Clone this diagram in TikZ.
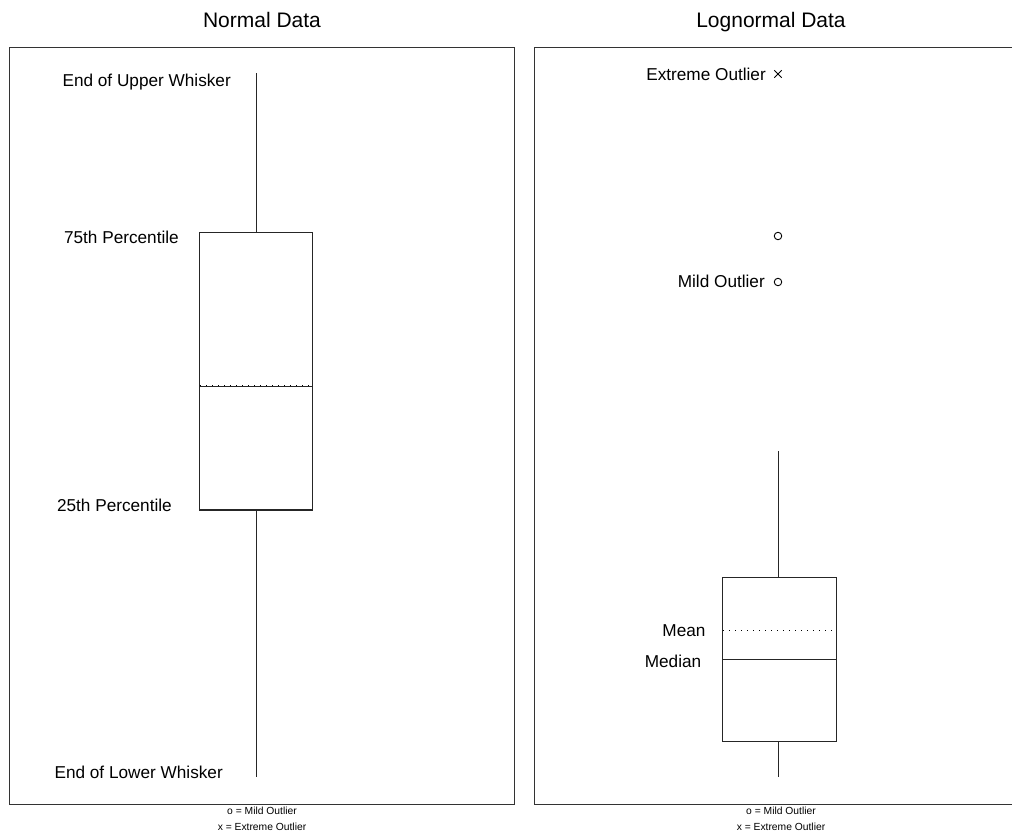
\documentclass[tikz,border=0pt]{standalone}
\usepackage{fontspec}
\setmainfont{Liberation Sans}
\begin{document}
\begin{tikzpicture}[x=1pt,y=-1pt,
  frame/.style={draw=black!80,line width=1pt},
  ln/.style={draw=black!85,line width=1pt},
  lbl/.style={font=\fontsize{17.2}{18}\selectfont,inner sep=0pt},
  ttl/.style={font=\fontsize{21}{22}\selectfont,inner sep=0pt,anchor=base},
  leg/.style={font=\fontsize{10.3}{11}\selectfont,inner sep=0pt},
  meanline/.style={draw=black,line width=1pt,dash pattern=on 1.2pt off 4.8pt},
  outc/.style={circle,draw=black,line width=0.9pt,minimum size=7.5pt,inner sep=0pt}]
\useasboundingbox (0,0) rectangle (1012,833);
% titles
\node[ttl] (t1) at (262,27.5) {Normal Data};
\node[ttl] (t2) at (771,27.5) {Lognormal Data};
% frames
\draw[frame] (9,47) rectangle (514,804);
\draw[frame] (1013,47) -- (534,47) -- (534,804) -- (1013,804);
% ---------- left plot
\coordinate (lwt) at (256,73);
\coordinate (lwb) at (256,777);
\draw[ln] (lwt) -- (256,232);
\draw[ln] (256,510) -- (lwb);
\draw[ln] (199,232) rectangle (312,510);
\draw[ln,line width=1.6pt] (199,510) -- (312,510);
\draw[ln] (199,386.5) -- (312,386.5);
\draw[meanline] (200,385.5) -- (312,385.5);
\node[lbl,anchor=east] (l1) at (231,82) {End of Upper Whisker};
\node[lbl,anchor=east] (l2) at (179,237) {75th Percentile};
\node[lbl,anchor=east] (l3) at (172,505) {25th Percentile};
\node[lbl,anchor=east] (l4) at (223,772) {End of Lower Whisker};
% ---------- right plot
\draw[ln] (778,451) -- (778,577);
\draw[ln] (778,741) -- (778,777);
\draw[ln] (722,577) rectangle (836,741);
\draw[ln] (722,659) -- (836,659);
\draw[meanline] (723,630) -- (836,630);
\node[lbl,anchor=center] (mean) at (684,631) {Mean};
\node[lbl,anchor=center] (med) at (673,661) {Median};
% outliers
\node[outc] (o1) at (778,236) {};
\node[outc] (o2) at (778,282) {};
\node[inner sep=0pt,minimum size=7pt] (x1) at (778,74) {};
\draw[line width=0.9pt] (x1.north west) -- (x1.south east) (x1.north east) -- (x1.south west);
\node[lbl,anchor=east] (ex) at (766,74) {Extreme Outlier};
\node[lbl,anchor=east] (mi) at (765,281) {Mild Outlier};
% legends
\node[leg] (g1) at (262,811) {o = Mild Outlier};
\node[leg] (g2) at (262,827) {x = Extreme Outlier};
\node[leg] (g3) at (781,811) {o = Mild Outlier};
\node[leg] (g4) at (781,827) {x = Extreme Outlier};
\end{tikzpicture}
\end{document}
